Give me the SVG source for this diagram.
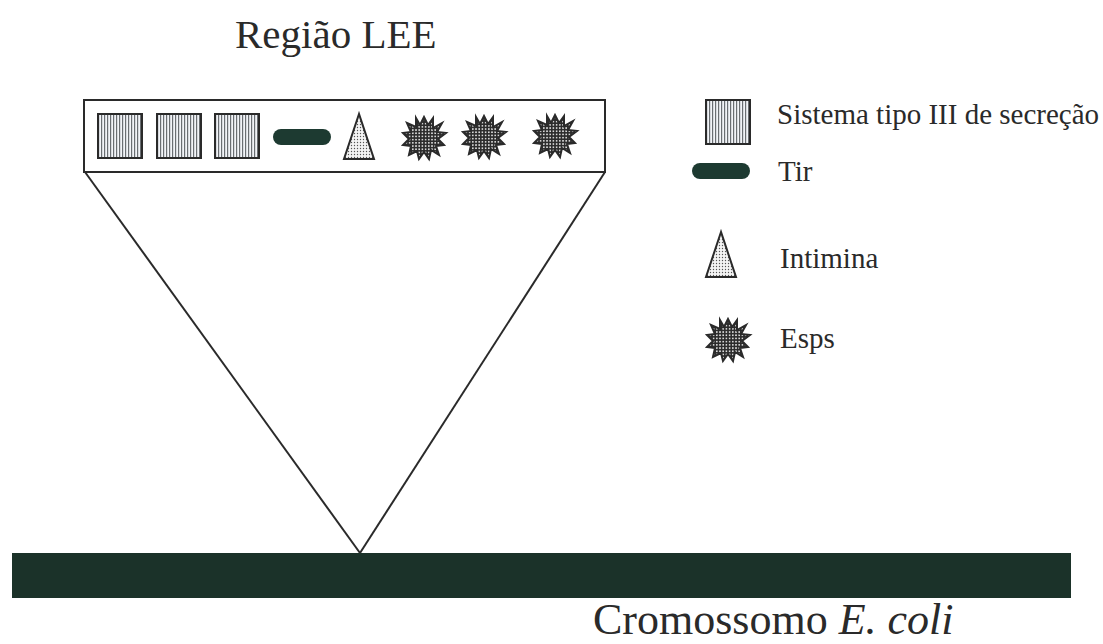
<svg xmlns="http://www.w3.org/2000/svg" width="1103" height="644" viewBox="0 0 1103 644">
<defs>
<pattern id="stripes" width="3" height="4" patternUnits="userSpaceOnUse">
<rect width="3" height="4" fill="#f2f4f8"/>
<rect width="1.2" height="4" fill="#6a6e72"/>
</pattern>
<pattern id="dotsLight" width="3" height="3" patternUnits="userSpaceOnUse">
<rect width="3" height="3" fill="#f4f4f4"/>
<circle cx="1.5" cy="1.5" r="0.7" fill="#555"/>
</pattern>
<pattern id="dotsDark" width="3.2" height="3.2" patternUnits="userSpaceOnUse">
<rect width="3.2" height="3.2" fill="#2a2a2a"/>
<circle cx="1.6" cy="1.6" r="0.9" fill="#f0f0f0"/>
</pattern>
<rect id="sq" width="44" height="44" fill="url(#stripes)" stroke="#2a2a2a" stroke-width="2"/>
<rect id="pill" width="58" height="16" rx="8" fill="#1d3a31"/>
<polygon id="tri" points="0,-45 -15,0 15,0" fill="url(#dotsLight)" stroke="#2a2a2a" stroke-width="2" stroke-linejoin="miter"/>
<polygon id="star" points="0,-21 4,-13 9,-20 9,-10 18,-15 13,-6 22,-5 14,1 20,7 12,8 15,17 7,12 5,21 0,14 -5,21 -7,13 -15,17 -13,8 -21,7 -15,1 -21,-5 -13,-6 -17,-15 -8,-11 -8,-20 -4,-13" fill="url(#dotsDark)" stroke="#2a2a2a" stroke-width="2" stroke-linejoin="miter"/>
</defs>
<style>
text{font-family:"Times New Roman",Times,Tinos,"Liberation Serif","Nimbus Roman","FreeSerif","Noto Serif",serif;fill:#2a2a2a}
.line{stroke:#2a2a2a;stroke-width:2;fill:none}
</style>
<rect width="1103" height="644" fill="#ffffff"/>

<g id="title"><text x="235" y="48" font-size="41">Região LEE</text></g>

<g id="connectors">
<line class="line" x1="85" y1="172" x2="360" y2="553"/>
<line class="line" x1="605" y1="172" x2="360" y2="553"/>
</g>

<g id="lee-region">
<rect x="84" y="100" width="521" height="72" fill="#ffffff" stroke="#2a2a2a" stroke-width="2"/>
<use href="#sq" x="98" y="114"/>
<use href="#sq" x="157" y="114"/>
<use href="#sq" x="215" y="114"/>
<use href="#pill" x="273" y="129"/>
<use href="#tri" x="359" y="159"/>
<use href="#star" x="424" y="138"/>
<use href="#star" x="484" y="137"/>
<use href="#star" x="555" y="136"/>
</g>

<g id="chromosome">
<rect x="12" y="553" width="1059" height="45" fill="#1b3229"/>
<text x="593" y="634" font-size="44">Cromossomo <tspan font-style="italic">E. coli</tspan></text>
</g>

<g id="legend-t3ss">
<use href="#sq" x="706" y="100"/>
<text x="777" y="124" font-size="29">Sistema tipo III de secreção</text>
</g>
<g id="legend-tir">
<use href="#pill" x="692" y="163"/>
<text x="778" y="181" font-size="29">Tir</text>
</g>
<g id="legend-intimina">
<use href="#tri" x="721" y="277"/>
<text x="780" y="268" font-size="29">Intimina</text>
</g>
<g id="legend-esps">
<use href="#star" x="728" y="340"/>
<text x="780" y="348" font-size="29">Esps</text>
</g>
</svg>
